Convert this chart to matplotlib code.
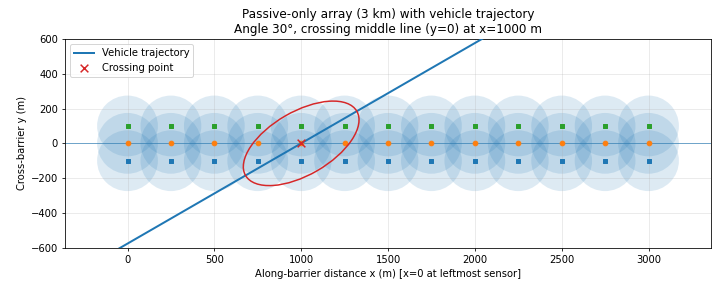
import numpy as np
import matplotlib
matplotlib.use("Agg")
import matplotlib.pyplot as plt
import matplotlib.patches as patches

# sensor layout (m)
sensor_x = [0, 250, 500, 750, 1000, 1250, 1500, 1750, 2000, 2250, 2500, 2750, 3000]
row_y = [100, 0, -100]
row_marker = ['s', 'o', 's']
row_color = ['C2', 'C1', 'C0']
coverage_radius = 175

# vehicle trajectory
angle_deg = 30
crossing_x = 1000
crossing_y = 0

# uncertainty ellipse around the crossing
ellipse_width = 740
ellipse_height = 365

fig, ax = plt.subplots(figsize=(10, 3.928), dpi=71.8)
fig.subplots_adjust(left=0.0905, right=0.9903, bottom=0.1216, top=0.8617)

# coverage circles
for y in row_y:
    for x in sensor_x:
        ax.add_patch(patches.Circle((x, y), coverage_radius, facecolor='C0',
                                    edgecolor='none', alpha=0.15))

# sensors
for y, m, c in zip(row_y, row_marker, row_color):
    ax.scatter(sensor_x, [y] * len(sensor_x), marker=m, color=c, s=22, zorder=3)

# middle line
ax.axhline(0, color='C0', linewidth=1, alpha=0.6)

# trajectory
t = np.linspace(-1500, 1500, 2)
traj_x = crossing_x + t * np.cos(np.radians(angle_deg))
traj_y = crossing_y + t * np.sin(np.radians(angle_deg))
ax.plot(traj_x, traj_y, color='C0', linewidth=2, label='Vehicle trajectory', zorder=4)

ax.scatter([crossing_x], [crossing_y], marker='x', color='tab:red', s=60,
           label='Crossing point', zorder=5)

ax.add_patch(patches.Ellipse((crossing_x, crossing_y), ellipse_width, ellipse_height,
                             angle=angle_deg, fill=False, edgecolor='tab:red',
                             linewidth=1.5, zorder=5))

ax.set_xlim(-360, 3360)
ax.set_ylim(-600, 600)
ax.set_aspect('equal')
ax.set_xticks(range(0, 3001, 500))
ax.set_yticks(range(-600, 601, 200))
ax.grid(True, alpha=0.3)
ax.set_xlabel('Along-barrier distance x (m) [x=0 at leftmost sensor]')
ax.set_ylabel('Cross-barrier y (m)')
ax.set_title('Passive-only array (3 km) with vehicle trajectory\n'
             'Angle 30°, crossing middle line (y=0) at x=1000 m')
ax.legend(loc='upper left')

fig.savefig('out.png', dpi=71.8)
